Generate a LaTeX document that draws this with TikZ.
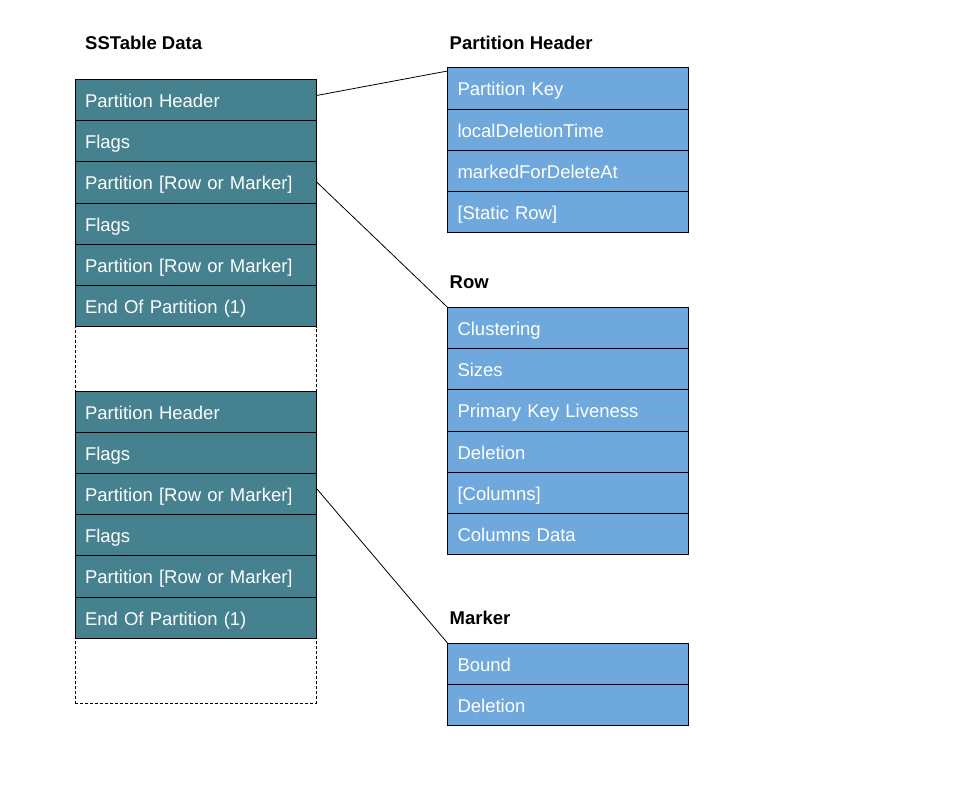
\documentclass[tikz,border=0pt]{standalone}
\usepackage{fontspec}
\setmainfont{Liberation Sans}
\usetikzlibrary{positioning}
\definecolor{darkcyan}{HTML}{45818E}
\definecolor{lightblue}{HTML}{6FA8DC}

\begin{document}
\begin{tikzpicture}[x=1pt,y=1pt,node distance=41.2pt,font=\fontsize{18.5}{22}\selectfont]
	\tikzstyle{cell}=[draw=black,line width=0.8pt,text=white,minimum height=41.2pt,text width=221pt,inner xsep=10pt,inner ysep=0pt,outer sep=0pt,align=left,text height=15pt,text depth=0pt]
	\tikzstyle{datacell}=[cell,fill=darkcyan]
	\tikzstyle{fieldcell}=[cell,fill=lightblue]
	\tikzstyle{gap}=[draw=black,line width=0.8pt,dash pattern=on 3pt off 2pt,minimum width=241pt,inner sep=0pt,outer sep=0pt]
	\tikzstyle{title}=[font=\fontsize{18.5}{22}\selectfont\bfseries,anchor=base west,inner sep=0pt]
	\useasboundingbox (0,0) rectangle (960,-796);
		% SSTable data
		\node[datacell] (ph1) at (195.5,-99.9) {Partition Header};
		\node[datacell] (flags1) [below of=ph1] {Flags};
		\node[datacell] (part1) [below of=flags1] {Partition [Row or Marker]};
		\node[datacell] (flags2) [below of=part1] {Flags};
		\node[datacell] (part2) [below of=flags2] {Partition [Row or Marker]};
		\node[datacell] (end1) [below of=part2] {End Of Partition (1)};
		\node[gap,minimum height=64.5pt] (gap1) [below=0pt of end1] {};
		\node[datacell] (ph2) [below=0pt of gap1] {Partition Header};
		\node[datacell] (flags3) [below of=ph2] {Flags};
		\node[datacell] (part3) [below of=flags3] {Partition [Row or Marker]};
		\node[datacell] (flags4) [below of=part3] {Flags};
		\node[datacell] (part4) [below of=flags4] {Partition [Row or Marker]};
		\node[datacell] (end2) [below of=part4] {End Of Partition (1)};
		\node[gap,minimum height=65pt] (gap2) [below=0pt of end2] {};
		% partition header
		\node[fieldcell] (key) at (568,-88.3) {Partition Key};
		\node[fieldcell] (ldt) [below of=key] {localDeletionTime};
		\node[fieldcell] (mfda) [below of=ldt] {markedForDeleteAt};
		\node[fieldcell] (static) [below of=mfda] {[Static Row]};
		% row
		\node[fieldcell] (clus) at (568,-327.9) {Clustering};
		\node[fieldcell] (sizes) [below of=clus] {Sizes};
		\node[fieldcell] (pkl) [below of=sizes] {Primary Key Liveness};
		\node[fieldcell] (del) [below of=pkl] {Deletion};
		\node[fieldcell] (cols) [below of=del] {[Columns]};
		\node[fieldcell] (cdata) [below of=cols] {Columns Data};
		% marker
		\node[fieldcell] (bound) at (568,-663.6) {Bound};
		\node[fieldcell] (mdel) [below of=bound] {Deletion};
		% titles
		\node[title] (sstitle) at ([xshift=10pt,yshift=30.3pt]ph1.north west) {SSTable Data};
		\node[title] (phtitle) at ([xshift=2pt,yshift=18.7pt]key.north west) {Partition Header};
		\node[title] (rowtitle) at ([xshift=2pt,yshift=18.8pt]clus.north west) {Row};
		\node[title] (mktitle) at ([xshift=2pt,yshift=19pt]bound.north west) {Marker};
			\draw[line width=0.8pt] ([xshift=1pt,yshift=4.5pt]ph1.east) -- ([yshift=-3.3pt]key.north west);
			\draw[line width=0.8pt] ([xshift=1pt]part1.east) -- (clus.north west);
			\draw[line width=0.8pt] ([xshift=1pt,yshift=5pt]part3.east) -- (bound.north west);
\end{tikzpicture}
\end{document}
